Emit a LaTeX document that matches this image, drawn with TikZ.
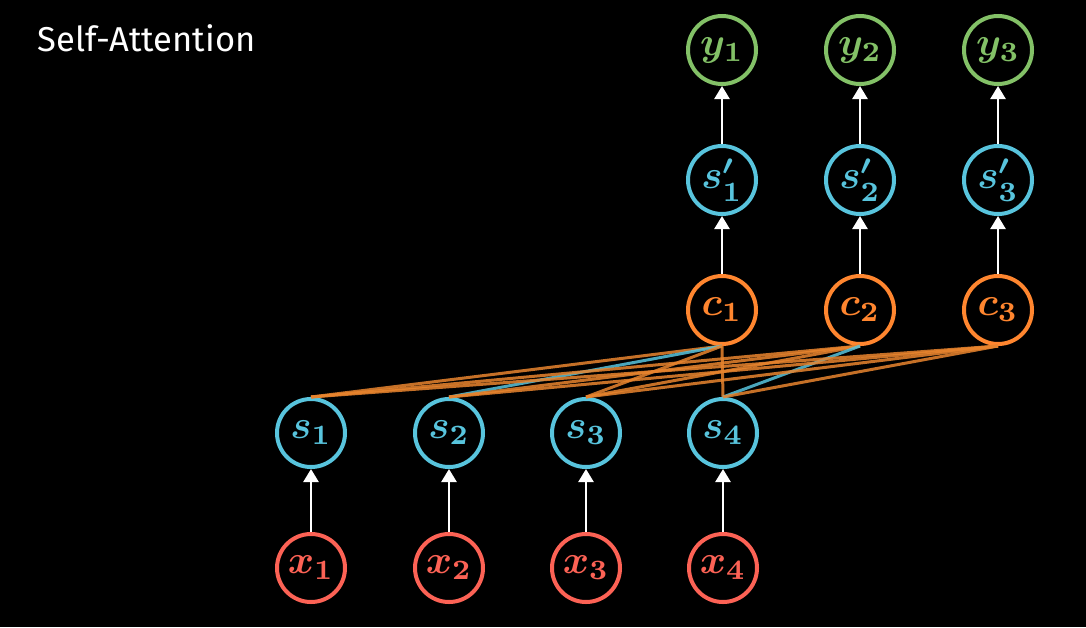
\documentclass[tikz,border=0pt]{standalone}
\usepackage{graphicx}
\usepackage{fontspec}
\newfontfamily\titlefont{Fira Sans}
\usetikzlibrary{arrows.meta}
\definecolor{mred}{HTML}{FC6255}
\definecolor{mblue}{HTML}{58C4DD}
\definecolor{mgreen}{HTML}{83C167}
\definecolor{morange}{HTML}{FF862F}
\definecolor{mline}{HTML}{E8842E}
\newcommand{\nodemath}[1]{\scalebox{4}{\boldmath$#1$}}
\begin{document}
\begin{tikzpicture}[x=1pt,y=-1pt,
  nd/.style={circle,draw,line width=4pt,minimum size=68pt,inner sep=0pt},
  xnode/.style={nd,draw=mred,text=mred},
  snode/.style={nd,draw=mblue,text=mblue},
  cnode/.style={nd,draw=morange,text=morange},
  ynode/.style={nd,draw=mgreen,text=mgreen},
  up/.style={draw=white,line width=2.5pt,-{Triangle[width=15pt,length=13pt]}},
  att/.style={draw=mline,line width=3pt,opacity=0.85},
  attb/.style={draw=mblue,line width=3pt,opacity=0.85}]
\fill[black] (0,0) rectangle (1086,627);
\useasboundingbox (0,0) rectangle (1086,627);
\node[anchor=base west,text=white,font=\titlefont\fontsize{34.5}{34.5}\selectfont] (title) at (34,51) {Self-Attention};
% x and s
\foreach \i/\xx in {1/311,2/449,3/586,4/723}{
  \node[xnode] (x\i) at (\xx,568) {\nodemath{x_{\i}}};
  \node[snode] (s\i) at (\xx,433) {\nodemath{s_{\i}}};
  \draw[up] (x\i.north) -- (s\i.south);
}
% c, s', y
\foreach \j/\xx in {1/722,2/860,3/998}{
  \node[cnode] (c\j) at (\xx,310) {\nodemath{c_{\j}}};
  \node[snode] (sp\j) at (\xx,180) {\nodemath{s'_{\j}}};
  \node[ynode] (y\j) at (\xx,50) {\nodemath{y_{\j}}};
  \draw[up] (c\j.north) -- (sp\j.south);
  \draw[up] (sp\j.north) -- (y\j.south);
}
% attention connections
\draw[att] (c1.south) -- (s1.north);
\draw[attb] (c1.south) -- (s2.north);
\draw[att] (c1.south) -- (s3.north);
\draw[att] (c1.south) -- (s4.north);
\draw[att] (c2.south) -- (s1.north);
\draw[att] (c2.south) -- (s2.north);
\draw[att] (c2.south) -- (s3.north);
\draw[attb] (c2.south) -- (s4.north);
\draw[att] (c3.south) -- (s1.north);
\draw[att] (c3.south) -- (s2.north);
\draw[att] (c3.south) -- (s3.north);
\draw[att] (c3.south) -- (s4.north);
\end{tikzpicture}
\end{document}
